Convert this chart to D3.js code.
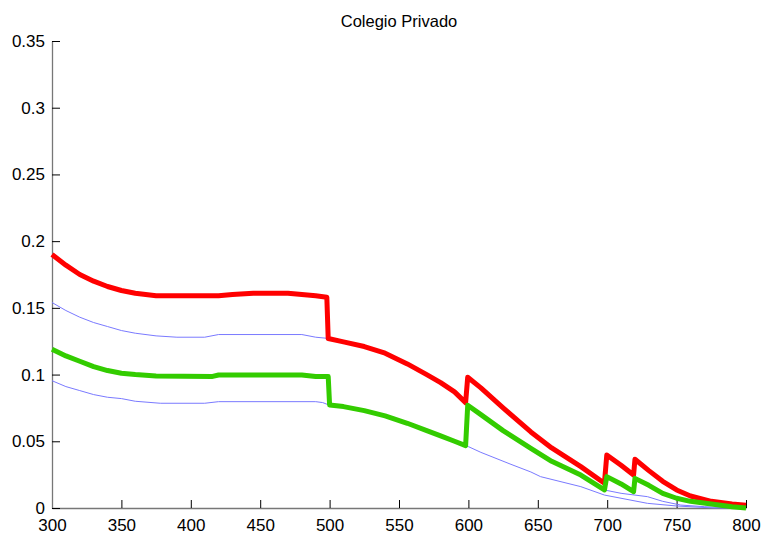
<!DOCTYPE html>
<html>
<head>
<meta charset="utf-8">
<script src="https://cdnjs.cloudflare.com/ajax/libs/d3/7.8.5/d3.min.js"></script>
<style>
  body { margin: 0; background: #fff; }
  text { font-family: Arial, "Liberation Sans", sans-serif; }
</style>
</head>
<body>
<div id="container"></div>
<script>
// Chart values: [x, value]
var title = "Colegio Privado";
var xTicks = [300, 350, 400, 450, 500, 550, 600, 650, 700, 750, 800];
var yTicks = [0, 0.05, 0.1, 0.15, 0.2, 0.25, 0.3, 0.35];
var yTickLabels = ["0", "0.05", "0.1", "0.15", "0.2", "0.25", "0.3", "0.35"];

var redSeries = [
  [300, 0.190], [310, 0.182], [320, 0.175], [330, 0.170], [340, 0.166], [350, 0.163],
  [360, 0.161], [375, 0.159], [400, 0.159], [420, 0.159], [430, 0.160], [445, 0.161],
  [470, 0.161], [480, 0.160], [490, 0.159], [498, 0.158], [499, 0.127], [510, 0.1245],
  [525, 0.121], [540, 0.116], [556, 0.108], [570, 0.100], [580, 0.094], [590, 0.087],
  [598, 0.079], [599.5, 0.098], [609, 0.090], [625, 0.075], [645, 0.057], [660, 0.045],
  [681, 0.031], [698, 0.0185], [699.7, 0.0397], [710, 0.032], [719, 0.0247], [720, 0.0365],
  [730, 0.028], [740, 0.020], [750, 0.0135], [760, 0.009], [775, 0.005], [790, 0.003], [800, 0.002]
];
var greenSeries = [
  [300, 0.119], [310, 0.114], [320, 0.110], [330, 0.106], [340, 0.103], [350, 0.101],
  [360, 0.100], [375, 0.099], [415, 0.0985], [420, 0.0997], [480, 0.0997], [490, 0.0985],
  [499, 0.0985], [500, 0.0772], [510, 0.076], [525, 0.073], [540, 0.069], [556, 0.0635],
  [570, 0.058], [580, 0.054], [590, 0.050], [598, 0.0467], [599.5, 0.077], [609, 0.070],
  [625, 0.058], [645, 0.0447], [660, 0.035], [681, 0.0247], [698, 0.0135], [699.7, 0.0235],
  [710, 0.018], [719, 0.0122], [720, 0.0222], [730, 0.017], [740, 0.011], [750, 0.0073],
  [760, 0.005], [775, 0.003], [790, 0.001], [800, 0.000]
];
var blueUpper = [
  [300, 0.154], [310, 0.148], [320, 0.143], [330, 0.139], [340, 0.136], [350, 0.133],
  [360, 0.131], [375, 0.129], [390, 0.128], [410, 0.128], [420, 0.130], [480, 0.130],
  [490, 0.128], [500, 0.127], [510, 0.1245], [525, 0.121], [540, 0.116], [556, 0.108],
  [570, 0.100], [590, 0.087], [600, 0.077], [625, 0.058], [645, 0.0447], [660, 0.035],
  [681, 0.0247], [698, 0.0135], [710, 0.011], [729, 0.0085], [740, 0.005], [753, 0.0022],
  [770, 0.001], [790, 0]
];
var blueLower = [
  [300, 0.0954], [310, 0.091], [320, 0.088], [330, 0.085], [340, 0.083], [350, 0.082],
  [360, 0.080], [378, 0.0785], [410, 0.0785], [420, 0.0797], [490, 0.0797], [495, 0.079],
  [500, 0.077], [510, 0.076], [525, 0.073], [540, 0.069], [556, 0.0635], [570, 0.058],
  [580, 0.054], [590, 0.050], [600, 0.046], [609, 0.0417], [630, 0.033], [645, 0.027],
  [652, 0.0235], [681, 0.016], [698, 0.0097], [729, 0.0035], [750, 0.0015], [777, 0], [800, 0]
];

// SVG dimensions
var width = 763,
    height = 535,
    plotLeft = 52, plotRight = 746, plotTop = 41, plotBottom = 508;

var svg = d3.select("#container")
    .append("svg")
    .attr("width", width)
    .attr("height", height);

var xScale = d3.scaleLinear().domain([300, 800]).range([plotLeft, plotRight]);
var yScale = d3.scaleLinear().domain([0, 0.35]).range([plotBottom, plotTop]);

// Axes with inward ticks
var xAxis = svg.append("g")
    .attr("transform", "translate(0," + plotBottom + ")")
    .call(d3.axisBottom(xScale).tickValues(xTicks).tickSizeInner(-8).tickSizeOuter(0).tickPadding(7)
        .tickFormat(d3.format("d")));
var yAxis = svg.append("g")
    .attr("transform", "translate(" + plotLeft + ",0)")
    .call(d3.axisLeft(yScale).tickValues(yTicks).tickSizeInner(-8).tickSizeOuter(0).tickPadding(7)
        .tickFormat(function(d, i) { return yTickLabels[i]; }));

[xAxis, yAxis].forEach(function(g) {
  g.select(".domain").attr("stroke", "#777").attr("stroke-width", 1.3);
  g.selectAll(".tick line").attr("stroke", "#000");
  g.selectAll(".tick text").attr("font-size", "17px").attr("fill", "#000")
      .attr("font-family", "Arial, 'Liberation Sans', sans-serif");
});
xAxis.selectAll(".tick text").attr("dy", "0.92em");

var line = d3.line()
    .x(function(d) { return xScale(d[0]); })
    .y(function(d) { return yScale(d[1]); });

// Thin blue reference curves
[blueUpper, blueLower].forEach(function(s) {
  svg.append("path")
      .datum(s)
      .attr("d", line)
      .attr("fill", "none")
      .attr("stroke", "#7a7aff")
      .attr("stroke-width", 1);
});

// Thick red and green curves
svg.append("path")
    .datum(redSeries)
    .attr("d", line)
    .attr("fill", "none")
    .attr("stroke", "#ff0000")
    .attr("stroke-width", 5)
    .attr("stroke-linejoin", "round");
svg.append("path")
    .datum(greenSeries)
    .attr("d", line)
    .attr("fill", "none")
    .attr("stroke", "#33cc00")
    .attr("stroke-width", 5)
    .attr("stroke-linejoin", "round");

// Title
svg.append("text")
    .attr("x", (plotLeft + plotRight) / 2)
    .attr("y", 27)
    .attr("text-anchor", "middle")
    .attr("font-size", "16.5px")
    .text(title);
</script>
</body>
</html>
